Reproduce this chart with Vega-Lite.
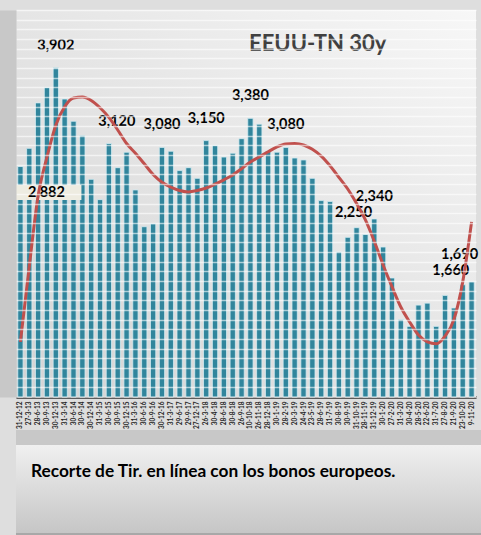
{
  "$schema": "https://vega.github.io/schema/vega-lite/v6.json",
  "background": "#dedede",
  "padding": {"left": 5, "top": 10, "right": 4, "bottom": 0},
  "config": {"concat": {"spacing": 1}, "view": {"stroke": null}, "font": "Lato"},
  "datasets": {
    "yields": [
      {"date": "31-12-12", "value": 2.882, "trend": 1.07, "label": "2,882"},
      {"date": "27-3-13", "value": 3.07, "trend": 1.85},
      {"date": "28-6-13", "value": 3.54, "trend": 2.58},
      {"date": "30-9-13", "value": 3.70, "trend": 2.98},
      {"date": "30-12-13", "value": 3.902, "trend": 3.31, "label": "3,902"},
      {"date": "31-3-14", "value": 3.58, "trend": 3.50},
      {"date": "30-6-14", "value": 3.35, "trend": 3.59},
      {"date": "30-9-14", "value": 3.20, "trend": 3.60},
      {"date": "30-12-14", "value": 2.75, "trend": 3.565},
      {"date": "31-3-15", "value": 2.54, "trend": 3.49},
      {"date": "30-6-15", "value": 3.12, "trend": 3.39, "label": "3,120"},
      {"date": "30-9-15", "value": 2.87, "trend": 3.26},
      {"date": "30-12-15", "value": 3.03, "trend": 3.12},
      {"date": "31-3-16", "value": 2.64, "trend": 3.02},
      {"date": "30-6-16", "value": 2.26, "trend": 2.91},
      {"date": "30-9-16", "value": 2.29, "trend": 2.80},
      {"date": "30-12-16", "value": 3.08, "trend": 2.72, "label": "3,080"},
      {"date": "31-3-17", "value": 3.04, "trend": 2.67},
      {"date": "29-6-17", "value": 2.84, "trend": 2.635},
      {"date": "29-9-17", "value": 2.87, "trend": 2.62},
      {"date": "27-12-17", "value": 2.76, "trend": 2.635},
      {"date": "26-3-18", "value": 3.15, "trend": 2.66, "label": "3,150"},
      {"date": "30-4-18", "value": 3.10, "trend": 2.70},
      {"date": "28-6-18", "value": 2.98, "trend": 2.745},
      {"date": "30-8-18", "value": 3.02, "trend": 2.795},
      {"date": "26-9-18", "value": 3.17, "trend": 2.86},
      {"date": "10-10-18", "value": 3.38, "trend": 2.93, "label": "3,380"},
      {"date": "26-11-18", "value": 3.32, "trend": 2.98},
      {"date": "28-12-18", "value": 3.04, "trend": 3.035},
      {"date": "30-1-19", "value": 3.03, "trend": 3.085},
      {"date": "28-2-19", "value": 3.08, "trend": 3.115, "label": "3,080"},
      {"date": "20-3-19", "value": 2.97, "trend": 3.12},
      {"date": "24-4-19", "value": 2.95, "trend": 3.105},
      {"date": "23-5-19", "value": 2.76, "trend": 3.06},
      {"date": "28-6-19", "value": 2.53, "trend": 2.99},
      {"date": "31-7-19", "value": 2.52, "trend": 2.89},
      {"date": "30-8-19", "value": 2.00, "trend": 2.77},
      {"date": "30-9-19", "value": 2.15, "trend": 2.65},
      {"date": "31-10-19", "value": 2.25, "trend": 2.50, "label": "2,250"},
      {"date": "28-11-19", "value": 2.18, "trend": 2.33},
      {"date": "31-12-19", "value": 2.34, "trend": 2.11, "label": "2,340"},
      {"date": "30-1-20", "value": 2.05, "trend": 1.865},
      {"date": "27-2-20", "value": 1.73, "trend": 1.64},
      {"date": "31-3-20", "value": 1.30, "trend": 1.43},
      {"date": "30-4-20", "value": 1.23, "trend": 1.275},
      {"date": "28-5-20", "value": 1.45, "trend": 1.14},
      {"date": "22-6-20", "value": 1.47, "trend": 1.07},
      {"date": "31-7-20", "value": 1.23, "trend": 1.05},
      {"date": "27-8-20", "value": 1.55, "trend": 1.13},
      {"date": "21-9-20", "value": 1.42, "trend": 1.30},
      {"date": "23-10-20", "value": 1.66, "trend": 1.69, "label": "1,660"},
      {"date": "9-11-20", "value": 1.69, "trend": 2.31, "label": "1,690"}
    ]
  },
  "vconcat": [
    {
      "width": 460,
      "height": 387,
      "title": {"text": "EEUU-TN 30y", "orient": "top", "anchor": "start", "frame": "group", "offset": -63, "dx": 233, "baseline": "alphabetic", "fontSize": 22, "fontWeight": "bold", "color": "#404040", "font": "Lato"},
      "layer": [
        {
          "data": {"values": [{}]},
          "mark": {"type": "rect", "fill": {"gradient": "linear", "x1": 1, "y1": 0, "x2": 0, "y2": 1, "stops": [{"offset": 0, "color": "#f7f7f7"}, {"offset": 1, "color": "#d3d3d3"}]}},
          "encoding": {}
        },
        {
          "data": {"name": "yields"},
          "mark": {"type": "bar", "color": "#31859c", "stroke": "#d3ecf2", "strokeWidth": 0.8},
          "encoding": {
            "x": {"field": "date", "type": "ordinal", "sort": null, "scale": {"paddingInner": 0.4, "paddingOuter": 0.2},
              "axis": {"title": null, "labelAngle": -90, "labelFont": "Lato", "labelFontSize": 6.5, "labelFontWeight": "bold", "labelColor": "#262626", "ticks": false, "domainColor": "#404040", "domainWidth": 3, "labelPadding": 4, "labelOverlap": false, "labelBound": false}},
            "y": {"field": "value", "type": "quantitative", "scale": {"domain": [0.5, 4.5], "nice": false, "zero": false},
              "axis": {"title": null, "labels": false, "ticks": false, "domain": true, "domainColor": "#c8c8c8", "domainWidth": 22, "offset": 11, "grid": true, "gridColor": "#ffffff", "gridWidth": 1.5, "gridOpacity": 0.6, "tickCount": 40, "zindex": 1}},
            "y2": {"datum": 0.5}
          }
        },
        {
          "data": {"name": "yields"},
          "transform": [{"filter": {"field": "date", "oneOf": ["31-12-12"]}}],
          "mark": {"type": "point", "shape": "M-1,-0.22H1V0.22H-1Z", "size": 4624, "filled": true, "fill": "#eeece1", "opacity": 1, "strokeWidth": 0, "xOffset": 27, "yOffset": 26},
          "encoding": {
            "x": {"field": "date", "type": "ordinal", "sort": null},
            "y": {"field": "value", "type": "quantitative", "scale": {"domain": [0.5, 4.5], "nice": false, "zero": false}}
          }
        },
        {
          "data": {"name": "yields"},
          "transform": [{"filter": {"field": "date", "oneOf": ["31-12-12"]}}],
          "mark": {"type": "text", "font": "Lato", "fontSize": 14.5, "fontWeight": "bold", "color": "#000000", "baseline": "middle", "dx": 26, "dy": 26},
          "encoding": {
            "x": {"field": "date", "type": "ordinal", "sort": null},
            "y": {"field": "value", "type": "quantitative", "scale": {"domain": [0.5, 4.5], "nice": false, "zero": false}},
            "text": {"field": "label"}
          }
        },
        {
          "data": {"name": "yields"},
          "transform": [{"filter": {"field": "date", "oneOf": ["30-12-13", "30-12-16", "26-3-18", "10-10-18", "28-2-19", "31-12-19"]}}],
          "mark": {"type": "text", "font": "Lato", "fontSize": 14.5, "fontWeight": "bold", "color": "#000000", "baseline": "middle", "dy": -22},
          "encoding": {
            "x": {"field": "date", "type": "ordinal", "sort": null},
            "y": {"field": "value", "type": "quantitative", "scale": {"domain": [0.5, 4.5], "nice": false, "zero": false}},
            "text": {"field": "label"}
          }
        },
        {
          "data": {"name": "yields"},
          "transform": [{"filter": {"field": "date", "oneOf": ["30-6-15"]}}],
          "mark": {"type": "text", "font": "Lato", "fontSize": 14.5, "fontWeight": "bold", "color": "#000000", "baseline": "middle", "dx": 8, "dy": -22},
          "encoding": {
            "x": {"field": "date", "type": "ordinal", "sort": null},
            "y": {"field": "value", "type": "quantitative", "scale": {"domain": [0.5, 4.5], "nice": false, "zero": false}},
            "text": {"field": "label"}
          }
        },
        {
          "data": {"name": "yields"},
          "transform": [{"filter": {"field": "date", "oneOf": ["31-10-19"]}}],
          "mark": {"type": "text", "font": "Lato", "fontSize": 14.5, "fontWeight": "bold", "color": "#000000", "baseline": "middle", "dx": -3, "dy": -15},
          "encoding": {
            "x": {"field": "date", "type": "ordinal", "sort": null},
            "y": {"field": "value", "type": "quantitative", "scale": {"domain": [0.5, 4.5], "nice": false, "zero": false}},
            "text": {"field": "label"}
          }
        },
        {
          "data": {"name": "yields"},
          "transform": [{"filter": {"field": "date", "oneOf": ["9-11-20"]}}],
          "mark": {"type": "text", "font": "Lato", "fontSize": 14.5, "fontWeight": "bold", "color": "#000000", "baseline": "middle", "dx": -12, "dy": -27},
          "encoding": {
            "x": {"field": "date", "type": "ordinal", "sort": null},
            "y": {"field": "value", "type": "quantitative", "scale": {"domain": [0.5, 4.5], "nice": false, "zero": false}},
            "text": {"field": "label"}
          }
        },
        {
          "data": {"name": "yields"},
          "transform": [{"filter": {"field": "date", "oneOf": ["23-10-20"]}}],
          "mark": {"type": "text", "font": "Lato", "fontSize": 14.5, "fontWeight": "bold", "color": "#000000", "baseline": "middle", "dx": -12, "dy": -14},
          "encoding": {
            "x": {"field": "date", "type": "ordinal", "sort": null},
            "y": {"field": "value", "type": "quantitative", "scale": {"domain": [0.5, 4.5], "nice": false, "zero": false}},
            "text": {"field": "label"}
          }
        },
        {
          "data": {"name": "yields"},
          "mark": {"type": "line", "color": "#c0504d", "strokeWidth": 3, "interpolate": "monotone"},
          "encoding": {
            "x": {"field": "date", "type": "ordinal", "sort": null},
            "y": {"field": "trend", "type": "quantitative", "scale": {"domain": [0.5, 4.5], "nice": false, "zero": false}}
          }
        }
      ]
    },
    {
      "width": 472,
      "height": 105,
      "data": {"values": [{}]},
      "title": {"text": "Recorte de Tir. en línea con los bonos europeos.", "orient": "top", "anchor": "start", "frame": "group", "offset": -64.3, "dx": 15, "baseline": "alphabetic", "fontSize": 17.3, "fontWeight": "bold", "color": "#000000", "font": "Lato"},
      "mark": {"type": "rect", "fill": {"gradient": "linear", "x1": 0, "y1": 0, "x2": 0, "y2": 1, "stops": [{"offset": 0, "color": "#c8c8c8"}, {"offset": 0.14, "color": "#c8c8c8"}, {"offset": 0.14, "color": "#f0f0f0"}, {"offset": 0.98, "color": "#c6c6c6"}, {"offset": 0.98, "color": "#a8a8a8"}, {"offset": 1, "color": "#a8a8a8"}]}},
      "encoding": {}
    }
  ]
}
